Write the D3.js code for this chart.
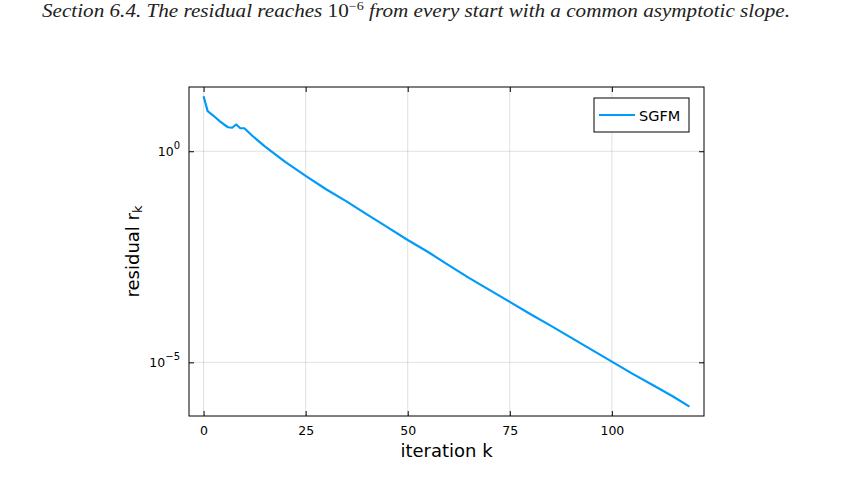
<!DOCTYPE html>
<html>
<head>
<meta charset="utf-8">
<script src="https://cdn.jsdelivr.net/npm/d3@7"></script>
<style>
  body { margin: 0; background: #fff; }
  svg text { font-family: "DejaVu Sans", sans-serif; }
</style>
</head>
<body>
<script>
// residual history of SGFM
var iterations = [0, 1, 2, 3, 4, 5, 6, 7, 8, 9, 10, 12, 15, 17, 20, 25, 30, 35, 40, 45,
    50, 55, 60, 65, 70, 75, 80, 85, 90, 95, 100, 105, 110, 115, 119];
var residuals = [20, 8.9, 7.5, 6.2, 5.1, 4.3, 3.7, 3.6, 4.3, 3.5, 3.5, 2.3, 1.3, 0.93, 0.56,
    0.26, 0.126, 0.065, 0.032, 0.016, 7.9e-3, 4.1e-3, 2.0e-3, 1.0e-3, 5.2e-4, 2.7e-4,
    1.4e-4, 7.4e-5, 3.85e-5, 2.0e-5, 1.04e-5, 5.4e-6, 2.9e-6, 1.55e-6, 8.9e-7];
var xTicks = [0, 25, 50, 75, 100];
var yTickExps = [0, -5];
var seriesName = "SGFM";

var W = 847, H = 488;
var margin = { top: 87, right: 143, bottom: 72, left: 189 },
    width = W - margin.left - margin.right,
    height = H - margin.top - margin.bottom;

var svg = d3.select("body").append("svg")
    .attr("width", W)
    .attr("height", H);

// caption line (cropped from the page above the figure)
var cap = svg.append("text")
    .attr("x", 42)
    .attr("y", 17)
    .attr("textLength", 748)
    .attr("lengthAdjust", "spacingAndGlyphs")
    .style("font-family", "Liberation Serif, serif")
    .style("font-style", "italic")
    .style("font-size", "18px")
    .style("fill", "#222");
cap.append("tspan").text("Section 6.4. The residual reaches ");
cap.append("tspan").style("font-style", "normal").text("10");
cap.append("tspan").attr("dy", -7).style("font-size", "12px").style("font-style", "normal").text("\u22126");
cap.append("tspan").attr("dy", 7).text(" from every start with a common asymptotic slope.");

var g = svg.append("g")
    .attr("transform", "translate(" + margin.left + "," + margin.top + ")");

var xPad = (119 - 0) * 0.03;
var x = d3.scaleLinear()
    .domain([0 - xPad, 119 + xPad])
    .range([0, width]);

var lmax = Math.log10(d3.max(residuals)), lmin = Math.log10(d3.min(residuals));
var yPad = (lmax - lmin) * 0.03;
var y = d3.scaleLog()
    .domain([Math.pow(10, lmin - yPad), Math.pow(10, lmax + yPad)])
    .range([height, 0]);

// grid
g.selectAll(".xgrid").data(xTicks).enter().append("line")
    .attr("x1", function(d) { return x(d); })
    .attr("x2", function(d) { return x(d); })
    .attr("y1", 0).attr("y2", height)
    .style("stroke", "#000").style("stroke-opacity", 0.12).style("stroke-width", 1);
g.selectAll(".ygrid").data(yTickExps).enter().append("line")
    .attr("y1", function(d) { return y(Math.pow(10, d)); })
    .attr("y2", function(d) { return y(Math.pow(10, d)); })
    .attr("x1", 0).attr("x2", width)
    .style("stroke", "#000").style("stroke-opacity", 0.12).style("stroke-width", 1);

// axes (bottom/left with labels, top/right mirrored ticks)
var tickLen = 5;
var xAxis = d3.axisBottom(x).tickValues(xTicks).tickSizeInner(-tickLen).tickSizeOuter(0).tickPadding(10);
var xAxisTop = d3.axisTop(x).tickValues(xTicks).tickSizeInner(-tickLen).tickSizeOuter(0).tickFormat("");
var yVals = yTickExps.map(function(e) { return Math.pow(10, e); });
var yAxis = d3.axisLeft(y).tickValues(yVals).tickSizeInner(-tickLen).tickSizeOuter(0).tickFormat("");
var yAxisRight = d3.axisRight(y).tickValues(yVals).tickSizeInner(-tickLen).tickSizeOuter(0).tickFormat("");

g.append("g").attr("transform", "translate(0," + height + ")").call(xAxis)
    .call(function(s) {
        s.selectAll("text").style("font-size", "12.5px").style("fill", "#000")
            .style("font-family", "DejaVu Sans, sans-serif");
    });
g.append("g").call(xAxisTop);
g.append("g").call(yAxis);
g.append("g").attr("transform", "translate(" + width + ",0)").call(yAxisRight);
g.selectAll(".domain").remove();
g.selectAll(".tick line").style("stroke", "#000").style("stroke-width", 1);

// y tick labels with superscript exponents
yTickExps.forEach(function(e) {
    var t = g.append("text")
        .attr("x", -9)
        .attr("y", y(Math.pow(10, e)) + 5)
        .style("text-anchor", "end")
        .style("font-size", "12.5px");
    t.append("tspan").text("10");
    t.append("tspan").attr("dy", -7).style("font-size", "10px")
        .text(e < 0 ? "\u2212" + (-e) : String(e));
});

// frame
g.append("rect")
    .attr("width", width).attr("height", height)
    .style("fill", "none").style("stroke", "#000").style("stroke-width", 1);

// series
var data = iterations.map(function(k, i) { return { k: k, r: residuals[i] }; });
var line = d3.line()
    .x(function(d) { return x(d.k); })
    .y(function(d) { return y(d.r); });
g.append("path")
    .datum(data)
    .attr("d", line)
    .style("fill", "none")
    .style("stroke", "#009af9")
    .style("stroke-width", 2.2)
    .style("stroke-linejoin", "round");

// axis labels
svg.append("text")
    .attr("x", margin.left + width / 2)
    .attr("y", 457)
    .style("text-anchor", "middle")
    .style("font-size", "18px")
    .text("iteration k");

var yl = svg.append("text")
    .attr("transform", "translate(139," + (margin.top + height / 2) + ") rotate(-90)")
    .style("text-anchor", "middle")
    .style("font-size", "18px");
yl.append("tspan").text("residual r");
yl.append("tspan").attr("dy", 3).style("font-size", "13px").text("k");

// legend
var lg = svg.append("g").attr("transform", "translate(594,98)");
lg.append("rect")
    .attr("width", 95).attr("height", 34)
    .style("fill", "#fff").style("stroke", "#000").style("stroke-width", 1);
lg.append("line")
    .attr("x1", 5).attr("x2", 41).attr("y1", 17).attr("y2", 17)
    .style("stroke", "#009af9").style("stroke-width", 2.2);
lg.append("text")
    .attr("x", 45).attr("y", 22.5)
    .style("font-size", "14.5px")
    .text(seriesName);
</script>
</body>
</html>
